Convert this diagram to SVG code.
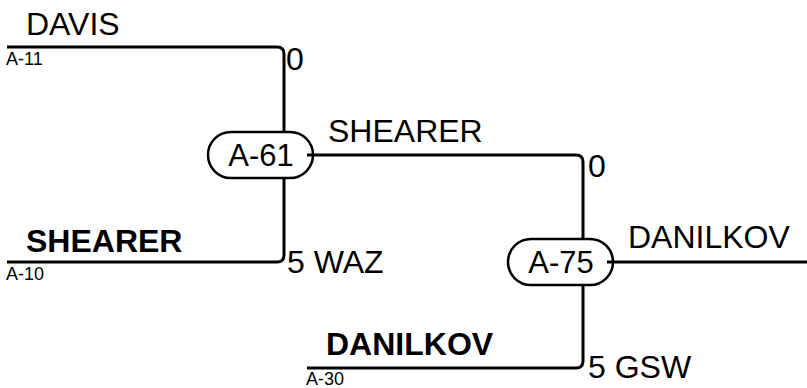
<svg xmlns="http://www.w3.org/2000/svg" width="807" height="388" viewBox="0 0 807 388">
<style>
text{font-family:"Liberation Sans",Arial,sans-serif;fill:#000}
.big{font-size:32px}
.nd{font-size:31px}
.b{font-weight:bold}
.sm{font-size:18px}
.c{fill:none;stroke:#000;stroke-width:3}
.n{fill:#fff;stroke:#000;stroke-width:2.5}
</style>
<rect width="807" height="388" fill="#fff"/>
<g id="A-61">
<rect class="n" x="208" y="132" width="105" height="46" rx="23"/>
<text class="nd" x="261" y="166" text-anchor="middle">A-61</text>
</g>
<g id="A-75">
<rect class="n" x="508" y="239" width="105" height="46" rx="23"/>
<text class="nd" x="561" y="273" text-anchor="middle">A-75</text>
</g>
<g id="connectors">
<path class="c" d="M7,47 H277 Q284,47 284,54 V132"/>
<path class="c" d="M7,262 H277 Q284,262 284,255 V178"/>
<path class="c" d="M307,155 H576 Q583,155 583,162 V239"/>
<path class="c" d="M307,368 H576 Q583,368 583,361 V285"/>
<path class="c" d="M607,262 H807"/>
</g>
<g id="labels">
<text class="big" x="26" y="35">DAVIS</text>
<text class="sm" x="6" y="65">A-11</text>
<text class="big" x="286" y="70">0</text>
<text class="big" x="328" y="142">SHEARER</text>
<text class="big" x="588" y="177">0</text>
<text class="big b" x="26" y="252">SHEARER</text>
<text class="sm" x="6" y="280">A-10</text>
<text class="big" x="287" y="273">5 WAZ</text>
<text class="big" x="628" y="248">DANILKOV</text>
<text class="big b" x="326" y="355">DANILKOV</text>
<text class="sm" x="306" y="385">A-30</text>
<text class="big" x="588" y="378">5 GSW</text>
</g>
</svg>
